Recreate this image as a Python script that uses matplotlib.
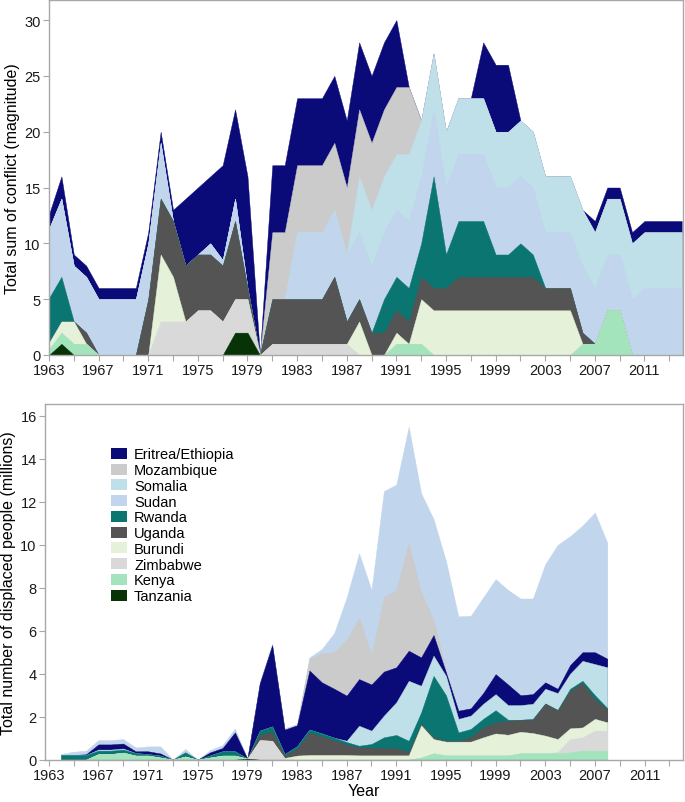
import numpy as np
import matplotlib
matplotlib.use("Agg")
import matplotlib.pyplot as plt
from matplotlib.patches import Patch

plt.rcParams['font.family'] = ['Liberation Sans', 'DejaVu Sans']

# ---------------- Top panel: conflict magnitude (1963-2014) ----------------
years_top = list(range(1963, 2015))
c_tanzania = [0, 1, 0, 0, 0, 0, 0, 0, 0, 0, 0, 0, 0, 0, 0, 2, 2, 0, 0, 0, 0, 0, 0, 0, 0, 0,
              0, 0, 0, 0, 0, 0, 0, 0, 0, 0, 0, 0, 0, 0, 0, 0, 0, 0, 0, 0, 0, 0, 0, 0, 0, 0]
c_kenya = [0.5, 1, 1, 1, 0, 0, 0, 0, 0, 0, 0, 0, 0, 0, 0, 0, 0, 0, 0, 0, 0, 0, 0, 0, 0, 0,
           0, 0, 1, 1, 1, 0, 0, 0, 0, 0, 0, 0, 0, 0, 0, 0, 0, 1, 1, 4, 4, 0, 0, 0, 0, 0]
c_zimbabwe = [0, 0, 0, 0, 0, 0, 0, 0, 0, 3, 3, 3, 4, 4, 3, 3, 3, 0, 1, 1, 1, 1, 1, 1, 1, 0,
              0, 0, 0, 0, 0, 0, 0, 0, 0, 0, 0, 0, 0, 0, 0, 0, 0, 0, 0, 0, 0, 0, 0, 0, 0, 0]
c_burundi = [0.6, 1, 2, 0, 0, 0, 0, 0, 0, 6, 4, 0, 0, 0, 0, 0, 0, 0, 0, 0, 0, 0, 0, 0, 0, 3,
             0, 0, 1, 0, 4, 4, 4, 4, 4, 4, 4, 4, 4, 4, 4, 4, 4, 0, 0, 0, 0, 0, 0, 0, 0, 0]
c_uganda = [0, 0, 0, 1, 0, 0, 0, 0, 5, 5, 5, 5, 5, 5, 5, 7, 1, 0, 4, 4, 4, 4, 4, 6, 2, 2,
            2, 2, 2, 2, 2, 2, 2, 3, 3, 3, 3, 3, 3, 3, 2, 2, 2, 1, 0, 0, 0, 0, 0, 0, 0, 0]
c_rwanda = [4, 4, 0, 0, 0, 0, 0, 0, 0, 0, 0, 0, 0, 0, 0, 0, 0, 0, 0, 0, 0, 0, 0, 0, 0, 0,
            0, 3, 3, 3, 3, 10, 3, 5, 5, 5, 2, 2, 3, 2, 0, 0, 0, 0, 0, 0, 0, 0, 0, 0, 0, 0]
c_sudan = [6.2, 7, 5, 5, 5, 5, 5, 5, 5, 5, 0, 0, 0, 1, 0.5, 2, 0, 0, 0, 0, 6, 6, 6, 6, 6, 6,
           6, 6, 6, 6, 6, 6, 6, 6, 6, 6, 6, 6, 6, 6, 5, 5, 5, 6, 5, 5, 5, 5, 6, 6, 6, 6]
c_somalia = [0, 0, 0, 0, 0, 0, 0, 0, 0, 0, 0, 0, 0, 0, 0, 0, 0, 0, 0, 0, 0, 0, 0, 0, 0, 5,
             5, 5, 5, 6, 5, 5, 5, 5, 5, 5, 5, 5, 5, 5, 5, 5, 5, 5, 5, 5, 5, 5, 5, 5, 5, 5]
c_mozambique = [0, 0, 0, 0, 0, 0, 0, 0, 0, 0, 0, 0, 0, 0, 0, 0, 0, 0, 6, 6, 6, 6, 6, 6, 6, 6,
                6, 6, 6, 6, 0, 0, 0, 0, 0, 0, 0, 0, 0, 0, 0, 0, 0, 0, 0, 0, 0, 0, 0, 0, 0, 0]
c_eritrea = [1.3, 2, 1, 1, 1, 1, 1, 1, 1, 1, 1, 6, 6, 6, 8.5, 8, 10, 0, 6, 6, 6, 6, 6, 6, 6, 6,
             6, 6, 6, 0, 0, 0, 0, 0, 0, 5, 6, 6, 0, 0, 0, 0, 0, 0, 1, 1, 1, 1, 1, 1, 1, 1]

# ---------------- Bottom panel: displaced people, millions (1964-2008) ----------------
years_bot = list(range(1964, 2009))
d_tanzania = [0, 0, 0, 0, 0, 0, 0, 0, 0, 0, 0, 0, 0, 0, 0, 0.05, 0, 0, 0, 0, 0, 0, 0,
              0, 0, 0, 0, 0, 0, 0, 0, 0, 0, 0, 0, 0, 0, 0, 0, 0, 0, 0, 0, 0, 0]
d_kenya = [0, 0, 0, 0.26, 0.26, 0.33, 0.19, 0.19, 0.10, 0, 0.15, 0, 0.10, 0.19, 0.19, 0, 0,
           0, 0, 0, 0, 0, 0, 0, 0, 0, 0, 0, 0, 0.1, 0.3, 0.2, 0.2, 0.2, 0.2, 0.2, 0.2,
           0.3, 0.3, 0.3, 0.3, 0.34, 0.42, 0.42, 0.42]
d_zimbabwe = [0, 0, 0, 0, 0, 0, 0, 0, 0, 0, 0, 0, 0, 0, 0, 0, 0.91, 0.88, 0.03, 0, 0, 0, 0,
              0, 0, 0, 0, 0, 0, 0, 0, 0, 0, 0, 0, 0, 0, 0, 0, 0, 0.05, 0.62, 0.62, 0.93, 0.93]
d_burundi = [0, 0, 0, 0, 0, 0, 0, 0, 0, 0, 0, 0, 0, 0, 0, 0, 0, 0, 0.05, 0.19, 0.22, 0.22,
             0.22, 0.22, 0.2, 0.2, 0.2, 0.2, 0.2, 1.5, 0.66, 0.64, 0.64, 0.64, 0.84, 1.02,
             0.96, 1.0, 0.94, 0.82, 0.61, 0.5, 0.46, 0.55, 0.39]
d_uganda = [0, 0, 0, 0, 0, 0, 0, 0, 0, 0, 0, 0, 0, 0, 0, 0, 0.24, 0.42, 0.11, 0.31, 1.03,
            0.86, 0.68, 0.48, 0.37, 0.35, 0.34, 0.33, 0.17, 0.05, 0.08, 0.04, 0.04, 0.2,
            0.46, 0.52, 0.65, 0.54, 0.62, 1.48, 1.34, 1.74, 2.07, 0.9, 0.62]
d_rwanda = [0.22, 0.22, 0.22, 0.16, 0.16, 0.14, 0.12, 0.07, 0.09, 0, 0.19, 0, 0.1, 0.2, 0.2,
            0, 0.2, 0.25, 0.07, 0.12, 0.15, 0.14, 0.12, 0.12, 0.08, 0.18, 0.5, 0.62, 0.51,
            0.55, 2.86, 2.12, 0.39, 0.39, 0.4, 0.56, 0.05, 0.02, 0.04, 0.02, 0.02, 0.1,
            0.1, 0.2, 0.04]
d_somalia = [0, 0, 0, 0.05, 0.05, 0.05, 0, 0, 0, 0, 0, 0, 0, 0, 0, 0, 0, 0, 0, 0, 0, 0, 0,
             0.06, 0.93, 0.62, 1.01, 1.52, 2.79, 1.24, 0.94, 0.9, 0.63, 0.62, 0.7, 0.75,
             0.68, 0.68, 0.7, 0.68, 0.78, 0.7, 0.93, 1.45, 1.9]
d_eritrea = [0, 0, 0.03, 0.24, 0.24, 0.23, 0.08, 0.13, 0.10, 0, 0, 0, 0.14, 0.15, 0.88, 0,
             2.2, 3.78, 1.14, 0.98, 2.75, 2.38, 2.28, 2.1, 2.17, 2.15, 2.05, 1.63, 1.4, 1.32,
             0.96, 0.16, 0.38, 0.34, 0.5, 0.93, 0.96, 0.46, 0.45, 0.3, 0.2, 0.4, 0.4, 0.55,
             0.4]
d_mozambique = [0, 0, 0, 0, 0, 0, 0, 0, 0, 0, 0, 0, 0, 0, 0, 0, 0, 0, 0, 0, 0.53, 1.35, 1.7,
                2.62, 2.85, 1.4, 3.45, 3.6, 5.03, 3.04, 0.7, 0.14, 0, 0, 0, 0, 0, 0, 0, 0,
                0, 0, 0, 0, 0]
d_sudan = [0.05, 0.15, 0.17, 0.2, 0.2, 0.21, 0.18, 0.23, 0.33, 0, 0.16, 0, 0.11, 0.14, 0.18,
           0, 0.07, 0.07, 0.06, 0.06, 0.08, 0.2, 0.9, 1.95, 3.0, 3.0, 4.95, 4.9, 5.4, 4.6,
           4.7, 5.05, 4.39, 4.31, 4.45, 4.42, 4.4, 4.5, 4.45, 5.5, 6.7, 6.0, 5.9, 6.5, 5.4]

names = ['Eritrea/Ethiopia', 'Mozambique', 'Somalia', 'Sudan', 'Rwanda', 'Uganda',
         'Burundi', 'Zimbabwe', 'Kenya', 'Tanzania']
colors = {
    'Eritrea/Ethiopia': '#0a0a78',
    'Mozambique': '#cbcbcb',
    'Somalia': '#bfdfe9',
    'Sudan': '#c1d5ed',
    'Rwanda': '#0b7571',
    'Uganda': '#545454',
    'Burundi': '#e5f2d9',
    'Zimbabwe': '#d9d9d9',
    'Kenya': '#a3e4bd',
    'Tanzania': '#073307',
}

top_layers = [('Tanzania', c_tanzania), ('Kenya', c_kenya), ('Zimbabwe', c_zimbabwe),
              ('Burundi', c_burundi), ('Uganda', c_uganda), ('Rwanda', c_rwanda),
              ('Sudan', c_sudan), ('Somalia', c_somalia), ('Mozambique', c_mozambique),
              ('Eritrea/Ethiopia', c_eritrea)]
bot_layers = [('Tanzania', d_tanzania), ('Kenya', d_kenya), ('Zimbabwe', d_zimbabwe),
              ('Burundi', d_burundi), ('Uganda', d_uganda), ('Rwanda', d_rwanda),
              ('Somalia', d_somalia), ('Eritrea/Ethiopia', d_eritrea),
              ('Mozambique', d_mozambique), ('Sudan', d_sudan)]


def draw_stack(ax, x, layers):
    x = np.asarray(x, dtype=float)
    cum = np.zeros_like(x)
    tops = []
    for name, vals in layers:
        cum = cum + np.asarray(vals, dtype=float)
        tops.append((name, cum.copy()))
    # draw from top layer down so no seams appear between layers
    for name, top in reversed(tops):
        ax.fill_between(x, 0, top, facecolor=colors[name], edgecolor=colors[name],
                        linewidth=0.3, zorder=2)


fig = plt.figure(figsize=(6.85, 8.03), dpi=100)
ax1 = fig.add_axes([0.0715, 0.5567, 0.9255, 0.4421])
ax2 = fig.add_axes([0.0657, 0.0527, 0.9314, 0.4429])

draw_stack(ax1, years_top, top_layers)
draw_stack(ax2, years_bot, bot_layers)

tick_years = list(range(1963, 2015, 2))
for ax in (ax1, ax2):
    ax.set_xticks(tick_years)
    ax.set_xticklabels([str(y) if (y - 1963) % 4 == 0 else '' for y in tick_years])
    for s in ax.spines.values():
        s.set_color('#a8a8a8')
        s.set_linewidth(1.0)
    ax.tick_params(direction='out', length=4, width=0.8, color='#a8a8a8',
                   labelsize=10.5, labelcolor='#1a1a1a', pad=2)

ax1.set_xlim(1963, 2014.1)
ax1.set_ylim(0, 31.8)
ax1.set_yticks([0, 5, 10, 15, 20, 25, 30])
ax1.set_ylabel('Total sum of conflict (magnitude)', fontsize=11.5, labelpad=3)

ax2.set_xlim(1962.7, 2014.1)
ax2.set_ylim(0, 16.55)
ax2.set_yticks([0, 2, 4, 6, 8, 10, 12, 14, 16])
ax2.set_ylabel('Total number of displaced people (millions)', fontsize=11.5, labelpad=3)
ax2.set_xlabel('Year', fontsize=11.5, labelpad=1)

handles = [Patch(facecolor=colors[n], edgecolor='none', label=n) for n in names]
ax2.legend(handles=handles, loc='upper left', bbox_to_anchor=(0.103, 0.878),
           frameon=False, fontsize=10.5, handlelength=1.1, handleheight=0.8,
           labelspacing=0.12, handletextpad=0.5, borderaxespad=0, borderpad=0)

fig.savefig('out.png', dpi=100)
